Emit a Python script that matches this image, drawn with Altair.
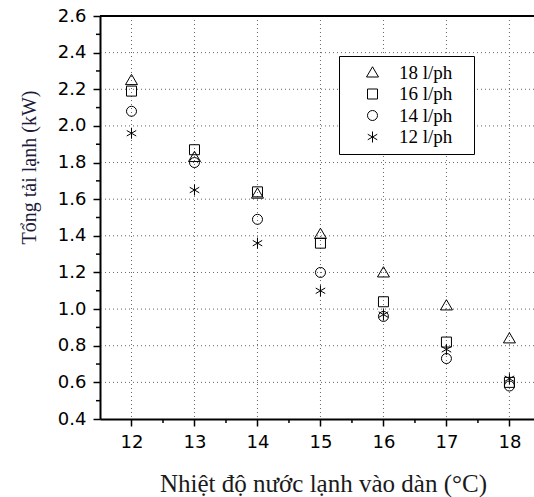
import altair as alt
import pandas as pd

temps = [12, 13, 14, 15, 16, 17, 18]
q18 = [2.25, 1.83, 1.63, 1.41, 1.20, 1.02, 0.84]
q16 = [2.19, 1.87, 1.64, 1.36, 1.04, 0.82, 0.60]
q14 = [2.08, 1.80, 1.49, 1.20, 0.96, 0.73, 0.58]
q12 = [1.96, 1.65, 1.36, 1.10, 0.97, 0.78, 0.62]
series = ["18 l/ph", "16 l/ph", "14 l/ph", "12 l/ph"]

y_major = [0.4, 0.6, 0.8, 1.0, 1.2, 1.4, 1.6, 1.8, 2.0, 2.2, 2.4, 2.6]
y_minor = [0.5, 0.7, 0.9, 1.1, 1.3, 1.5, 1.7, 1.9, 2.1, 2.3, 2.5]
x_major = [12, 13, 14, 15, 16, 17, 18]
x_minor = [12.5, 13.5, 14.5, 15.5, 16.5, 17.5]
y_grid = [0.6, 0.8, 1.0, 1.2, 1.4, 1.6, 1.8, 2.0, 2.2, 2.4]
x_grid = [12, 13, 14, 15, 16, 17, 18]
y_top = [2.6]

rows = []
for name, vals in zip(series, [q18, q16, q14, q12]):
    for t, v in zip(temps, vals):
        rows.append({"t": t, "q": v, "s": name})
df = pd.DataFrame(rows)

xscale = alt.Scale(domain=[11.5, 18.39], nice=False, zero=False)
yscale = alt.Scale(domain=[0.4, 2.6], nice=False, zero=False)

xtitle = "Nhiệt độ nước lạnh vào dàn  (°C)"
ytitle = "Tổng tải lạnh  (kW)"

xaxis = alt.Axis(values=x_major, format="d", tickSize=7,
                 grid=False, labelOverlap=False, labelFlush=False, labelBound=False,
                 labelPadding=7,
                 titleX=223, titleY=64, titleAnchor="middle", titleBaseline="middle",
                 titleAlign="center", titleFontSize=25, titleColor="#1a1a1a")
yaxis = alt.Axis(values=y_major, format=".1f", tickSize=7,
                 grid=False, labelOverlap=False, labelFlush=False, labelBound=False,
                 labelPadding=7,
                 titleX=-71, titleY=151, titleAngle=-90, titleAlign="center",
                 titleBaseline="middle", titleFontSize=20, titleColor="#1c1c3c")

shapes = [
    "M0,-1.15L1.2,0.9L-1.2,0.9Z",
    "square",
    "circle",
    "M0,-1.1L0,1.1M-0.95,-0.55L0.95,0.55M-0.95,0.55L0.95,-0.55",
]

grid_style = dict(color="#666666", strokeDash=[1, 3], strokeWidth=1)

ygrid = alt.Chart(pd.DataFrame({"gy": y_grid})).mark_rule(**grid_style).encode(
    y=alt.Y("gy:Q", scale=yscale, axis=yaxis, title=ytitle)
)
xgrid = alt.Chart(pd.DataFrame({"gx": x_grid})).mark_rule(**grid_style).encode(
    x=alt.X("gx:Q", scale=xscale, axis=xaxis, title=xtitle)
)
top = alt.Chart(pd.DataFrame({"ty": y_top})).mark_rule(color="black", strokeWidth=2).encode(
    y=alt.Y("ty:Q", scale=yscale, axis=yaxis, title=ytitle)
)
yminor = alt.Chart(pd.DataFrame({"my": y_minor})).mark_rule(color="black", strokeWidth=1.5).encode(
    y=alt.Y("my:Q", scale=yscale, axis=yaxis, title=ytitle),
    x=alt.value(-4), x2=alt.value(0),
)
xminor = alt.Chart(pd.DataFrame({"mx": x_minor})).mark_rule(color="black", strokeWidth=1.5).encode(
    x=alt.X("mx:Q", scale=xscale, axis=xaxis, title=xtitle),
    y=alt.value(403), y2=alt.value(407),
)

points = alt.Chart(df).mark_point(filled=False, color="black", size=100, strokeWidth=1, opacity=1).encode(
    x=alt.X("t:Q", scale=xscale, axis=xaxis, title=xtitle),
    y=alt.Y("q:Q", scale=yscale, axis=yaxis, title=ytitle),
    shape=alt.Shape("s:N", scale=alt.Scale(domain=series, range=shapes),
                    legend=alt.Legend(title=None, orient="none", legendX=239, legendY=40,
                                      labelExpr="datum.label + '\u2800'")),
)

chart = alt.layer(ygrid, xgrid, top, yminor, xminor, points).properties(
    width=434, height=403,
    autosize=alt.AutoSizeParams(type="none"),
    padding={"left": 100, "top": 16, "right": 0, "bottom": 78},
).configure_view(stroke=None).configure_axis(
    domainColor="black", domainWidth=2, tickColor="black", tickWidth=1.5,
    labelFont="DejaVu Sans", labelFontSize=18, labelColor="black",
    titleFont="Liberation Serif", titleFontWeight="normal", labelOverlap=False,
).configure_legend(
    strokeColor="black", strokeWidth=1, fillColor="white", padding=7,
    labelFont="Liberation Serif", labelFontSize=19, labelColor="black",
    symbolStrokeColor="black", symbolFillColor="transparent", symbolSize=100,
    symbolStrokeWidth=1, rowPadding=1.5, labelOffset=17, symbolOffset=17,
)

chart.save("out.html", embed_options={"renderer": "svg", "actions": False})
